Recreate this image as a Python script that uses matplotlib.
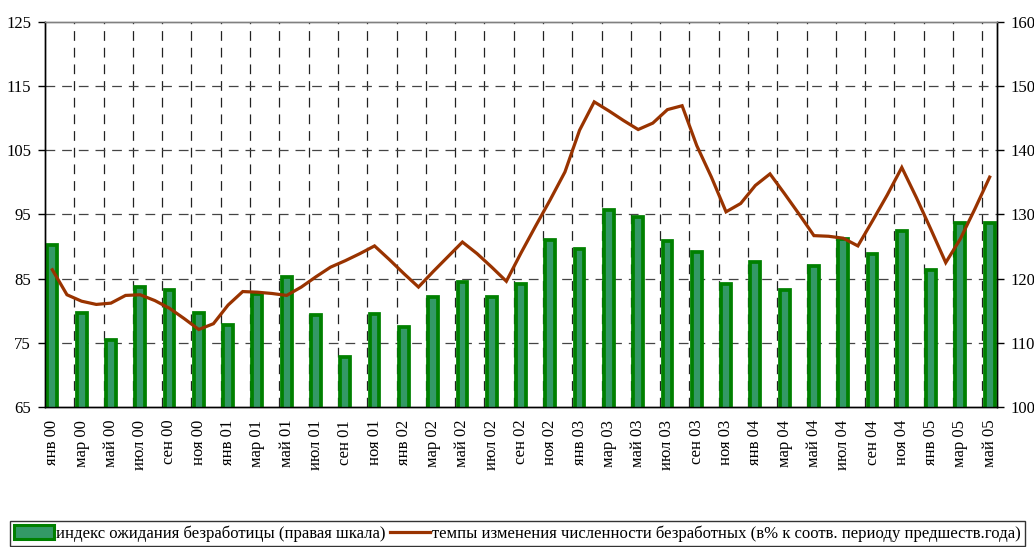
import matplotlib
matplotlib.use("Agg")
import matplotlib.pyplot as plt
from matplotlib.patches import Patch
from matplotlib.lines import Line2D
import numpy as np

plt.rcParams['font.family'] = ['Liberation Serif', 'DejaVu Serif']
plt.rcParams['lines.scale_dashes'] = False

# Category labels (every second month, Jan 2000 - May 2005)
labels = ['янв 00', 'мар 00', 'май 00', 'июл 00', 'сен 00', 'ноя 00',
          'янв 01', 'мар 01', 'май 01', 'июл 01', 'сен 01', 'ноя 01',
          'янв 02', 'мар 02', 'май 02', 'июл 02', 'сен 02', 'ноя 02',
          'янв 03', 'мар 03', 'май 03', 'июл 03', 'сен 03', 'ноя 03',
          'янв 04', 'мар 04', 'май 04', 'июл 04', 'сен 04', 'ноя 04',
          'янв 05', 'мар 05', 'май 05']

# Unemployment expectation index (right scale), bimonthly
bar_values = [125.2, 114.7, 110.4, 118.7, 118.3, 114.6,
              112.8, 117.6, 120.3, 114.3, 107.9, 114.5,
              112.5, 117.1, 119.5, 117.2, 119.1, 126.0,
              124.6, 130.7, 129.6, 125.9, 124.2, 119.2,
              122.6, 118.2, 122.0, 126.1, 123.9, 127.4,
              121.3, 128.7, 128.7]

# Rate of change of unemployed number (left scale), monthly
line_values = [86.4, 82.5, 81.5, 81.0, 81.2, 82.4, 82.5, 81.6, 80.4, 78.8,
               77.1, 78.0, 80.9, 83.0, 82.9, 82.7, 82.4, 83.7, 85.3, 86.8,
               87.8, 88.9, 90.1, 88.0, 85.8, 83.7, 86.1, 88.4, 90.7, 88.9,
               86.8, 84.6, 89.0, 93.2, 97.3, 101.6, 108.1, 112.5, 111.1, 109.6,
               108.2, 109.2, 111.3, 111.9, 105.7, 100.8, 95.4, 96.7, 99.5, 101.3,
               98.2, 95.0, 91.7, 91.6, 91.3, 90.1, 94.0, 98.0, 102.3, 97.6,
               92.6, 87.5, 91.2, 95.9, 100.8]

bar_label = 'индекс ожидания безработицы (правая шкала)'
line_label = 'темпы изменения численности безработных (в% к соотв. периоду предшеств.года)'

n_months = len(line_values)
month_x = np.arange(n_months)
bar_x = month_x[::2]

fig = plt.figure(figsize=(10.34, 5.47), dpi=100)
ax = fig.add_axes([45/1034, 1 - 407.3/547, (997 - 45)/1034, (407.3 - 21.5)/547])
ax2 = ax.twinx()

# Bars on the right scale (drawn in the lower axes)
ax.bar(bar_x, bar_values, width=0.67, color='#339966', edgecolor='#008000',
       linewidth=2.7, zorder=3)
ax.set_ylim(100, 160)
ax.set_xlim(-0.5, n_months - 0.5)

# Line on the left scale
ax2.plot(month_x, line_values, color='#993300', linewidth=2.3, zorder=4,
         solid_joinstyle='miter')
ax2.set_ylim(65, 125)

ax.set_zorder(1)
ax2.set_zorder(2)
ax2.patch.set_visible(False)
ax.patch.set_visible(True)

# Ticks: right axis for bars, left for line
ax.yaxis.tick_right()
ax2.yaxis.tick_left()
ax.set_yticks(np.arange(100, 161, 10))
ax2.set_yticks(np.arange(65, 126, 10))

boundaries = np.arange(-0.5, n_months, 2)
ax.set_xticks(boundaries)
ax.set_xticklabels([])
ax.set_xticks(bar_x, minor=True)
ax.set_xticklabels(labels, minor=True, rotation=90, fontsize=12)
ax.tick_params(axis='x', which='major', direction='out', length=5, width=1)
ax.tick_params(axis='x', which='minor', length=0, pad=9)
ax.tick_params(axis='y', direction='out', length=5, width=1, labelsize=12, pad=5)
ax2.tick_params(axis='y', direction='out', length=5, width=1, labelsize=12, pad=5)
ax2.set_xticks([])

# Grid (drawn beneath bars)
dash = (0, (7, 5))
for b in boundaries[1:]:
    ax.axvline(b, color='#222222', linewidth=0.9, linestyle=dash, zorder=1)
for v in np.arange(110, 160, 10):
    ax.axhline(v, color='#444444', linewidth=0.9, linestyle=dash, zorder=1)

for a in (ax, ax2):
    a.spines['top'].set_color('#808080')
    a.spines['left'].set_color('black')
    a.spines['right'].set_color('black')
    a.spines['bottom'].set_color('black')
    for s in a.spines.values():
        s.set_linewidth(1)

handles = [Patch(facecolor='#339966', edgecolor='#008000', linewidth=2.2),
           Line2D([0], [0], color='#993300', linewidth=2.3)]
leg = fig.legend(handles, [bar_label, line_label], loc='lower left',
                 bbox_to_anchor=(10/1034, 1/547), ncol=2, fontsize=12,
                 frameon=True, fancybox=False, edgecolor='black',
                 handlelength=2.4, handleheight=0.9, handletextpad=0.1,
                 columnspacing=0.3, borderpad=0.25, borderaxespad=0.0)
leg.get_frame().set_linewidth(1)

fig.savefig('out.png', dpi=100)
